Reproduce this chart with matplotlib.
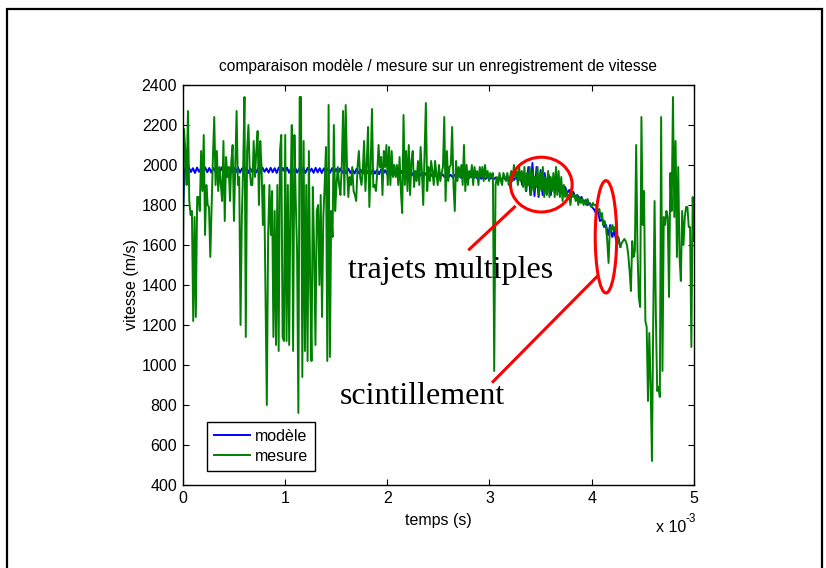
import matplotlib
matplotlib.use("Agg")
import matplotlib.pyplot as plt
import numpy as np
from matplotlib.patches import Ellipse, Rectangle

# --------------------------------------------------
# Data
# --------------------------------------------------

# measured speed (m/s), evenly spaced over 0 .. 5 ms
mesure = [
    # 0 - 1 ms
    1340, 2180, 2070, 1900, 2270, 1820, 1750, 1770, 1220, 1740,
    1240, 1840, 1840, 1770, 2070, 1870, 2150, 1650, 1900, 1800,
    1790, 1540, 1800, 2040, 2240, 1900, 2070, 1870, 1990, 1900,
    1820, 2120, 1720, 2040, 1940, 1990, 1820, 2020, 2100, 1720,
    2000, 2270, 1900, 1940, 1200, 1740, 1990, 2340, 1140, 2070,
    2200, 1970, 1900, 1900, 2120, 1940, 2070, 2170, 1800, 2120,
    1990, 1700, 1900, 1340, 800, 1650, 1900, 1650, 1870, 1140,
    1770, 1100, 1900, 1070, 2070, 2150, 1140,
    # 1 - 2 ms
    1120, 2150, 1120, 1900, 1100, 1850, 2200, 1070, 2150, 1820,
    1570, 760, 2340, 2340, 940, 2120, 1070, 1900, 1020, 2070,
    1400, 1020, 1890, 1570, 1100, 1770, 1800, 1400, 1850, 1240,
    1740, 1900, 2090, 1020, 2300, 1040, 1770, 1640, 2200, 1770,
    1900, 1990, 1900, 1850, 1990, 2270, 1850, 2300, 1990, 1840,
    1940, 1900, 1990, 1870, 1850, 1820, 1990, 2070, 1940, 1900,
    1970, 2120, 1870, 2000, 2190, 1790, 1990, 2280, 1890, 1900,
    1870, 1960, 2100, 1990, 2040, 1850, 2070, 1990, 2100,
    # 2 - 3 ms
    1900, 2090, 1900, 2070, 1940, 2000, 1940, 2000, 1900, 2040,
    1870, 1760, 2250, 1900, 2070, 1870, 2100, 1850, 2020, 2070,
    1890, 1970, 1920, 2020, 1900, 2090, 1960, 1800, 2050, 2310,
    1870, 1990, 1920, 2020, 1970, 1900, 2020, 1960, 1900, 2000,
    1920, 1960, 1990, 2240, 1820, 2070, 1920, 1990, 2000, 2190,
    1900, 1770, 2020, 1920, 1990, 1940, 2000, 1900, 2100, 1870,
    2000, 1900, 1970, 1940, 2000, 1900, 1990, 1940, 1970, 1900,
    1990, 1940, 1990, 1920, 2000, 1940, 1970, 1920, 1960,
    # 3 - 4 ms
    1940, 1960, 970, 1900, 1940, 1900, 1960, 1920, 1900, 1960,
    1940, 1920, 1960, 1900, 1940, 1970, 1920, 2000, 1940, 1970,
    1900, 1990, 1920, 1970, 1890, 1990, 1870, 1960, 1900, 1990,
    1850, 1970, 1870, 1940, 1890, 1990, 1850, 1960, 1870, 1990,
    1840, 1940, 1850, 1970, 1840, 1940, 1870, 1960, 1840, 1990,
    1850, 1970, 1840, 1940, 1820, 1900, 1840, 1870, 1830, 1850,
    1800, 1870, 1840, 1850, 1820, 1850, 1800, 1840, 1810, 1830,
    1800, 1820, 1800, 1830, 1810, 1800, 1790, 1810, 1800,
    # 4 - 5 ms
    1800, 1790, 1770, 1780, 1740, 1760, 1700, 1720, 1690, 1620,
    1510, 1690, 1670, 1700, 1670, 1690, 1660, 1640, 1610, 1590,
    1610, 1620, 1630, 1620, 1600, 1550, 1470, 1370, 1620, 1540,
    1570, 2100, 1570, 1340, 1290, 2240, 1700, 1870, 1220, 1190,
    820, 1160, 900, 520, 1240, 1820, 1240, 870, 890, 840,
    2240, 970, 1740, 1700, 1770, 1740, 1340, 1960, 1770, 2340,
    1740, 2120, 1540, 1990, 1540, 1420, 1770, 1600, 1740, 1790,
    1790, 1690, 1690, 1090, 1840, 1620,
]

# model speed (m/s), one value every 0.02 ms from 0 to 4.28 ms
modele = [
    1730,
    1985, 1962, 1988, 1965, 1984, 1960, 1987, 1966, 1983, 1961,
    1988, 1964, 1985, 1962, 1986, 1967, 1984, 1960, 1988, 1963,
    1984, 1966, 1987, 1961, 1985, 1964, 1988, 1962, 1983, 1967,
    1986, 1960, 1984, 1965, 1988, 1963, 1985, 1961, 1987, 1966,
    1983, 1962, 1986, 1964, 1984, 1960, 1988, 1965, 1985, 1963,
    1987, 1961, 1984, 1966, 1986, 1962, 1983, 1964, 1988, 1960,
    1985, 1965, 1982, 1961, 1986, 1963, 1984, 1960, 1983, 1964,
    1981, 1960, 1984, 1962, 1980, 1959, 1983, 1961, 1979, 1958,
    1982, 1960, 1978, 1957, 1981, 1959, 1977, 1956, 1980, 1958,
    1976, 1955, 1979, 1957, 1975, 1954, 1978, 1956, 1974, 1953,
    1972, 1952, 1970, 1950, 1968, 1951, 1970, 1949, 1967, 1950,
    1966, 1948, 1964, 1947, 1965, 1946, 1962, 1945, 1960, 1946,
    1958, 1944, 1957, 1942, 1955, 1943, 1954, 1940, 1952, 1941,
    1951, 1938, 1950, 1937, 1948, 1936, 1947, 1935, 1946, 1934,
    1945, 1933, 1944, 1932, 1943, 1931, 1942, 1930, 1941, 1930,
    1935, 1928, 1938, 1925, 1936, 1930, 1940, 1924, 1938, 1930,
    1945, 1925, 1942, 1920, 1950,
    1900, 1960, 1870, 1990, 1850, 2010, 1845, 1990, 1840, 1975,
    1850, 1960, 1855, 1950, 1850, 1930, 1860, 1920, 1870, 1900,
    1880, 1890, 1860, 1875, 1850, 1865, 1840, 1850, 1830, 1840,
    1815, 1825, 1800, 1810, 1790,
    1780, 1760, 1770, 1720, 1730, 1690, 1700, 1650, 1700, 1640,
    1670, 1620, 1640, 1590,
]

t_mesure = np.linspace(0, 5e-3, len(mesure))
t_modele = np.arange(len(modele)) * 2e-5

xticks = [0, 1e-3, 2e-3, 3e-3, 4e-3, 5e-3]
xtick_labels = ["0", "1", "2", "3", "4", "5"]
yticks = [400, 600, 800, 1000, 1200, 1400, 1600, 1800, 2000, 2200, 2400]

# --------------------------------------------------
# Figure
# --------------------------------------------------

plt.rcParams["font.family"] = ["Liberation Sans", "DejaVu Sans"]
FS = 11.5

W, H = 826, 568
fig = plt.figure(figsize=(W / 100, H / 100), dpi=100)

# outer frame (bottom edge runs off the picture)
fig.patches.append(
    Rectangle((7 / W, -10 / H), 815 / W, (H + 1) / H,
              transform=fig.transFigure, fill=False,
              edgecolor="black", linewidth=1.6)
)

ax = fig.add_axes([182.7 / W, 1 - 485 / H, 511.3 / W, 400 / H])

ax.plot(t_modele, modele, color="#0000ff", linewidth=1.4, label="modèle")
ax.plot(t_mesure, mesure, color="#008000", linewidth=1.4, label="mesure")

ax.set_xlim(0, 5e-3)
ax.set_ylim(400, 2400)
ax.set_xticks(xticks)
ax.set_xticklabels(xtick_labels)
ax.set_yticks(yticks)

ax.tick_params(direction="in", length=4, width=0.8, labelsize=FS,
               top=True, right=True, pad=4)
for s in ax.spines.values():
    s.set_linewidth(1.0)

ax.set_title("comparaison modèle / mesure sur un enregistrement de vitesse",
             fontsize=11.2, pad=10)
ax.set_xlabel("temps (s)", fontsize=FS, va="center")
ax.xaxis.set_label_coords(0.5, -0.09)
ax.set_ylabel("vitesse (m/s)", fontsize=FS, va="center")
ax.yaxis.set_label_coords(-0.1, 0.5)

fig.text(656 / W, 1 - 532 / H, "x 10", fontsize=FS, va="baseline")
fig.text(685 / W, 1 - 522 / H, "-3", fontsize=8.5, va="baseline")

leg = ax.legend(loc="lower left", bbox_to_anchor=(0.0475, 0.035),
                borderaxespad=0, fancybox=False, framealpha=1,
                edgecolor="black", fontsize=FS, handlelength=2.25,
                handletextpad=0.3, borderpad=0.45, labelspacing=0.3)
leg.get_frame().set_linewidth(1.0)

# --------------------------------------------------
# Annotations
# --------------------------------------------------

red = "#ff0000"
ax.add_patch(Ellipse((3.507e-3, 1902), 0.603e-3, 274, fill=False,
                     edgecolor=red, linewidth=2.2, zorder=5))
ax.add_patch(Ellipse((4.139e-3, 1641), 0.21e-3, 562, fill=False,
                     edgecolor=red, linewidth=2.2, zorder=5))
ax.plot([3.245e-3, 2.804e-3], [1790, 1579], color=red, linewidth=2.2, zorder=5)
ax.plot([4.047e-3, 3.035e-3], [1440, 917], color=red, linewidth=2.2, zorder=5)

ax.text(1.615e-3, 1435, "trajets multiples", family="Liberation Serif",
        fontsize=23, va="baseline", ha="left")
ax.text(1.537e-3, 803, "scintillement", family="Liberation Serif",
        fontsize=23, va="baseline", ha="left")

fig.savefig("out.png", dpi=100)
